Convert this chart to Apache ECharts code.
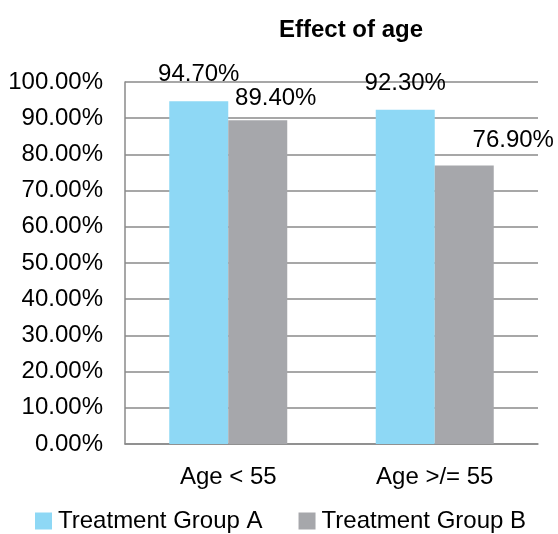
<!DOCTYPE html>
<html>
<head>
<meta charset="utf-8">
<script src="https://cdn.jsdelivr.net/npm/echarts@6/dist/echarts.min.js"></script>
<style>
  html, body { margin: 0; padding: 0; background: #fff; }
  #chart { width: 558px; height: 534px; }
</style>
</head>
<body>
<div id="chart"></div>
<script>
// Response rate by age group, two treatment arms
var categories = ['Age < 55', 'Age >/= 55'];
var groupA = [94.7, 92.3];
var groupB = [89.4, 76.9];
var seriesNames = ['Treatment Group A', 'Treatment Group B'];

var FONT = '"Liberation Sans", Arial, Helvetica, sans-serif';
var FS = 24;
var BLUE = '#8ED8F5';
var GREY = '#A6A7AB';
var LINE = '#8A8A8A';

function pct(v) { return v.toFixed(2) + '%'; }

// per-point label nudges (data labels were hand-placed in the original layout)
var offsetsA = [[0, -10], [0, -9]];
var offsetsB = [[18, -5], [49, -8]];

function buildData(values, offsets) {
  return values.map(function (v, i) {
    return { value: v, label: { offset: offsets[i] } };
  });
}

var chart = echarts.init(document.getElementById('chart'), null, { renderer: 'canvas' });

chart.setOption({
  animation: false,
  textStyle: { fontFamily: FONT },
  title: {
    text: 'Effect of age',
    left: 346,
    top: 13,
    textAlign: 'center',
    textStyle: { fontFamily: FONT, fontSize: FS, fontWeight: 'bold', color: '#000' }
  },
  legend: {
    data: seriesNames,
    left: 35,
    top: 509,
    padding: 0,
    itemWidth: 17,
    itemHeight: 17,
    itemGap: 36,
    icon: 'rect',
    textStyle: { fontFamily: FONT, fontSize: FS, color: '#000', padding: [0, 0, 0, 1] }
  },
  grid: { left: 125, right: 20, top: 82, bottom: 90, containLabel: false },
  xAxis: {
    type: 'category',
    data: categories,
    axisLine: { lineStyle: { color: LINE, width: 1.5 } },
    axisTick: { show: false },
    axisLabel: { fontFamily: FONT, fontSize: FS, color: '#000', margin: 21 }
  },
  yAxis: {
    type: 'value',
    min: 0,
    max: 100,
    interval: 10,
    axisLine: { show: true, lineStyle: { color: LINE, width: 1.5 } },
    axisTick: { show: false },
    splitLine: { lineStyle: { color: LINE, width: 1.5 } },
    axisLabel: { fontFamily: FONT, fontSize: FS, color: '#000', margin: 22, formatter: pct }
  },
  series: [
    {
      name: seriesNames[0],
      type: 'bar',
      data: buildData(groupA, offsetsA),
      barWidth: 59,
      barGap: '0%',
      itemStyle: { color: BLUE },
      label: {
        show: true, position: 'top', distance: 5,
        fontFamily: FONT, fontSize: FS, color: '#000',
        formatter: function (p) { return pct(p.value); }
      }
    },
    {
      name: seriesNames[1],
      type: 'bar',
      data: buildData(groupB, offsetsB),
      barWidth: 59,
      barGap: '0%',
      itemStyle: { color: GREY },
      label: {
        show: true, position: 'top', distance: 5,
        fontFamily: FONT, fontSize: FS, color: '#000',
        formatter: function (p) { return pct(p.value); }
      }
    }
  ]
});
</script>
</body>
</html>
